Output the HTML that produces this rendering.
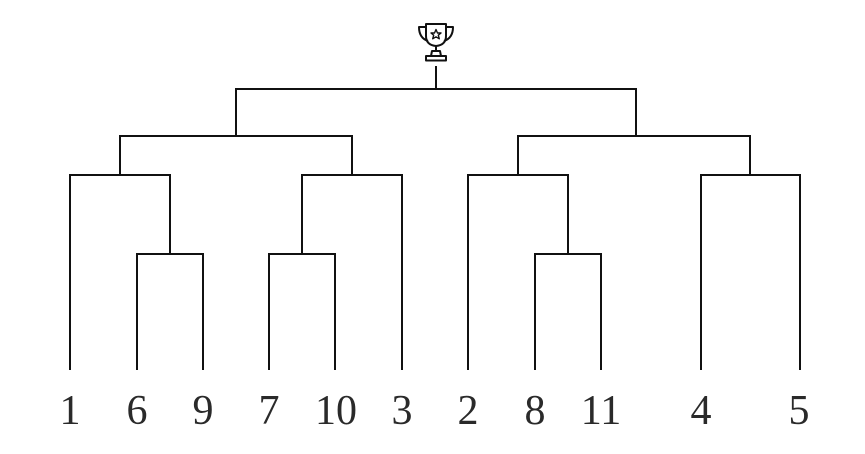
<!DOCTYPE html>
<html><head><meta charset="utf-8"><style>
html,body{margin:0;padding:0;background:#fff;}
svg{display:block;}
</style></head><body>
<svg width="865" height="454" viewBox="0 0 865 454" xmlns="http://www.w3.org/2000/svg">
<g stroke="#111" stroke-width="2" fill="none" stroke-linecap="square">
<path d="M70 369V175H170V254"/>
<path d="M137 369V254H203V369"/>
<path d="M120 175V136"/>
<path d="M269 369V254H335V369"/>
<path d="M302 254V175H402V369"/>
<path d="M352 175V136"/>
<path d="M120 136H352"/>
<path d="M236 136V89"/>
<path d="M468 369V175H568V254"/>
<path d="M535 369V254H601V369"/>
<path d="M518 175V136"/>
<path d="M701 369V175H800V369"/>
<path d="M750 175V136"/>
<path d="M518 136H750"/>
<path d="M636 136V89"/>
<path d="M236 89H636"/>
<path d="M436 89V67"/>
</g>
<g stroke="#111" stroke-width="2" fill="none" stroke-linejoin="round">
<path d="M426 24H446V36Q446 45 436 46Q426 45 426 36Z"/>
<path d="M426 27H419Q419 38 428 41"/>
<path d="M446 27H453Q453 38 444 41"/>
<path d="M436 46V51M432 51H440L441 56H431Z"/>
<rect x="426" y="56" width="20" height="4.5"/>
<path d="M436 29.5L437.5 33H441L438.3 35.2L439.3 38.8L436 36.8L432.7 38.8L433.7 35.2L431 33H434.5Z" stroke-width="1.4"/>
</g>
<g font-family="'Liberation Serif',serif" font-size="42" fill="#2a2a2a" text-anchor="middle">
<text x="70" y="424">1</text>
<text x="137" y="424">6</text>
<text x="203" y="424">9</text>
<text x="269" y="424">7</text>
<text x="336" y="424">10</text>
<text x="402" y="424">3</text>
<text x="468" y="424">2</text>
<text x="535" y="424">8</text>
<text x="601" y="424">11</text>
<text x="701" y="424">4</text>
<text x="799" y="424">5</text>
</g>
</svg>
</body></html>
